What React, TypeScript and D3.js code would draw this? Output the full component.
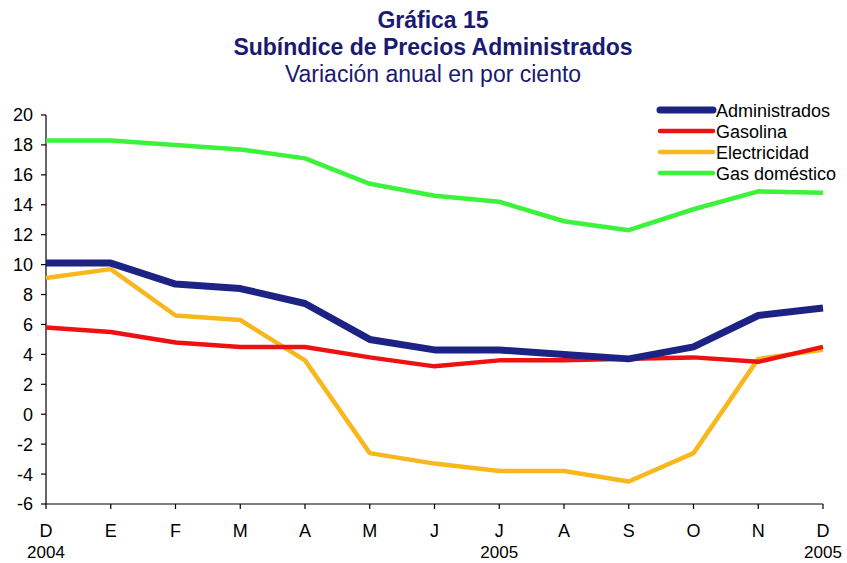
import * as d3 from "d3";

const months = ["D", "E", "F", "M", "A", "M", "J", "J", "A", "S", "O", "N", "D"];
const yearLabels = [
  { index: 0, label: "2004" },
  { index: 7, label: "2005" },
  { index: 12, label: "2005" },
];
const yTicks = [-6, -4, -2, 0, 2, 4, 6, 8, 10, 12, 14, 16, 18, 20];

const administrados = [10.1, 10.1, 8.7, 8.4, 7.4, 5.0, 4.3, 4.3, 4.0, 3.7, 4.5, 6.6, 7.1];
const gasolina = [5.8, 5.5, 4.8, 4.5, 4.5, 3.8, 3.2, 3.6, 3.6, 3.7, 3.8, 3.5, 4.5];
const electricidad = [9.1, 9.7, 6.6, 6.3, 3.6, -2.6, -3.3, -3.8, -3.8, -4.5, -2.6, 3.7, 4.3];
const gasDomestico = [18.3, 18.3, 18.0, 17.7, 17.1, 15.4, 14.6, 14.2, 12.9, 12.3, 13.7, 14.9, 14.8];

const series = [
  { name: "Administrados", values: administrados, color: "#1c2384", width: 7 },
  { name: "Gasolina", values: gasolina, color: "#ee1111", width: 4.5 },
  { name: "Electricidad", values: electricidad, color: "#f7b81e", width: 4.5 },
  { name: "Gas doméstico", values: gasDomestico, color: "#3df23b", width: 4.5 },
];

const width = 847;
const height = 563;
const margin = { top: 115, right: 24, bottom: 59, left: 46 };
const font = "Arial, 'Liberation Sans', sans-serif";
const titleColor = "#1a1a72";

const App = () => {
  const x = d3
    .scaleLinear()
    .domain([0, months.length - 1])
    .range([margin.left, width - margin.right]);
  const y = d3
    .scaleLinear()
    .domain([-6, 20])
    .range([height - margin.bottom, margin.top]);

  const line = d3
    .line<number>()
    .x((_, i) => x(i))
    .y((d) => y(d));

  const baseY = height - margin.bottom;

  return (
    <svg width={width} height={height} style={{ position: "absolute", left: 0, top: 0, background: "#fff" }}>
      {/* titles */}
      <g fontFamily={font} textAnchor="middle" fill={titleColor}>
        <text x={433} y={28} fontSize={23} fontWeight="bold">Gráfica 15</text>
        <text x={433} y={55} fontSize={23} fontWeight="bold">Subíndice de Precios Administrados</text>
        <text x={433} y={82} fontSize={23}>Variación anual en por ciento</text>
      </g>

      {/* y axis */}
      <line x1={margin.left} x2={margin.left} y1={y(20)} y2={baseY} stroke="#000" strokeWidth={1.2} />
      {yTicks.map((t) => (
        <g key={t}>
          <line x1={margin.left - 5} x2={margin.left} y1={y(t)} y2={y(t)} stroke="#000" strokeWidth={1.2} />
          <text x={33} y={y(t)} dy="0.36em" textAnchor="end" fontFamily={font} fontSize={18} fill="#000">
            {t}
          </text>
        </g>
      ))}

      {/* x axis */}
      <line x1={x(0)} x2={x(months.length - 1)} y1={baseY} y2={baseY} stroke="#000" strokeWidth={1.2} />
      {months.map((m, i) => (
        <g key={i}>
          <line x1={x(i)} x2={x(i)} y1={baseY} y2={baseY + 5} stroke="#000" strokeWidth={1.2} />
          <text x={x(i)} y={baseY + 33} textAnchor="middle" fontFamily={font} fontSize={18} fill="#000">
            {m}
          </text>
        </g>
      ))}
      {yearLabels.map((yl) => (
        <text key={yl.index} x={x(yl.index)} y={baseY + 54} textAnchor="middle" fontFamily={font} fontSize={17} fill="#000">
          {yl.label}
        </text>
      ))}

      {/* lines */}
      {[...series].reverse().map((s) => (
        <path
          key={s.name}
          d={line(s.values) ?? ""}
          fill="none"
          stroke={s.color}
          strokeWidth={s.width}
          strokeLinejoin="round"
        />
      ))}

      {/* legend */}
      {series.map((s, i) => (
        <g key={s.name} transform={`translate(660, ${110 + i * 21})`}>
          <line x1={0} x2={53} y1={0} y2={0} stroke={s.color} strokeWidth={s.width} strokeLinecap="round" />
          <text x={56} y={0} dy="0.38em" fontFamily={font} fontSize={18} fill="#000">
            {s.name}
          </text>
        </g>
      ))}
    </svg>
  );
};

export default App;
